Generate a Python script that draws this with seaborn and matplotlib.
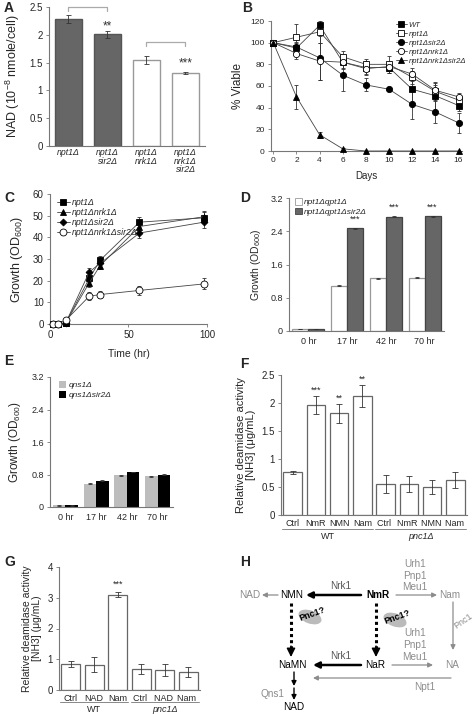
import numpy as np
import pandas as pd
import matplotlib
matplotlib.use("Agg")
import matplotlib.pyplot as plt
from matplotlib.patches import Ellipse
import seaborn as sns

W, H = 477, 714

# ---------------- data ----------------
a_strains = ["npt1Δ", "npt1Δ\nsir2Δ", "npt1Δ\nnrk1Δ", "npt1Δ\nnrk1Δ\nsir2Δ"]
a_nad = [2.28, 2.01, 1.55, 1.31]
a_err = [0.07, 0.06, 0.07, 0.02]

b_days = [0, 2, 4, 6, 8, 10, 12, 14, 16]
b_labels = ["WT", "npt1Δ", "npt1Δsir2Δ", "npt1Δnrk1Δ", "npt1Δnrk1Δsir2Δ"]
b_wt = [100, 95, 116, 82, 77, 77, 57, 51, 42]
b_npt1 = [100, 105, 110, 87, 80, 80, 68, 55, 47]
b_sir2 = [100, 96, 86, 70, 61, 57, 43, 36, 26]
b_nrk1 = [100, 90, 83, 82, 76, 78, 71, 56, 50]
b_triple = [100, 50, 15, 2, 0, 0, 0, 0, 0]
b_wt_err = [0, 5, 6, 6, 6, 5, 14, 13, 5]
b_npt1_err = [0, 12, 10, 5, 5, 8, 6, 8, 5]
b_sir2_err = [0, 5, 20, 15, 6, 2, 13, 10, 9]
b_nrk1_err = [0, 5, 17, 5, 6, 4, 6, 5, 4]
b_triple_err = [0, 11, 3, 1, 0, 0, 0, 0, 0]

c_time = [2, 5, 10, 25, 32, 57, 98]
c_labels = ["npt1Δ", "npt1Δnrk1Δ", "npt1Δsir2Δ", "npt1Δnrk1Δsir2Δ"]
c_npt1 = [0, 0, 0.5, 21, 29.5, 47, 49]
c_nrk1 = [0, 0, 0.5, 19, 27, 45, 49.5]
c_sir2 = [0, 0, 0.5, 24, 28, 42, 47]
c_triple = [0, 0, 1.7, 12.8, 13.6, 15.5, 18.5]
c_err = [0.3, 0.3, 0.5, 1.8, 1.8, 2.2, 2.5]

time_labels = ["0 hr", "17 hr", "42 hr", "70 hr"]
d_labels = ["npt1Δqpt1Δ", "npt1Δqpt1Δsir2Δ"]
d_qpt1 = [0.05, 1.09, 1.27, 1.28]
d_sir2 = [0.05, 2.47, 2.75, 2.76]
d_err = [0.01, 0.015, 0.01, 0.01]

e_labels = ["qns1Δ", "qns1Δsir2Δ"]
e_qns1 = [0.04, 0.57, 0.78, 0.76]
e_sir2 = [0.04, 0.65, 0.86, 0.80]
e_err = [0.005, 0.01, 0.01, 0.01]

f_treat = ["Ctrl", "NmR", "NMN", "Nam", "Ctrl ", "NmR ", "NMN ", "Nam "]
f_vals = [0.76, 1.97, 1.82, 2.13, 0.555, 0.555, 0.50, 0.62]
f_err = [0.02, 0.16, 0.17, 0.20, 0.165, 0.15, 0.13, 0.14]
f_stars = ["", "***", "**", "**", "", "", "", ""]

g_treat = ["Ctrl", "NAD", "Nam", "Ctrl ", "NAD ", "Nam "]
g_vals = [0.85, 0.82, 3.10, 0.68, 0.65, 0.58]
g_err = [0.10, 0.25, 0.08, 0.17, 0.19, 0.16]
g_stars = ["", "", "***", "", "", ""]

groups = ["WT", "pnc1Δ"]

# ---------------- style ----------------
sns.set_style("ticks")
plt.rcParams["font.family"] = ["Liberation Sans", "DejaVu Sans"]
plt.rcParams["mathtext.fontset"] = "custom"
plt.rcParams["mathtext.rm"] = "Liberation Sans"
plt.rcParams["mathtext.it"] = "Liberation Sans:italic"

AX = "#777777"
DARK = "#666666"


def rect(l, t, r, b):
    return [l / W, 1 - b / H, (r - l) / W, (b - t) / H]


def style(ax, fs=6.5):
    sns.despine(ax=ax)
    for s in ("left", "bottom"):
        ax.spines[s].set_color(AX)
        ax.spines[s].set_linewidth(0.8)
    ax.tick_params(labelsize=fs, length=2.5, width=0.6, color=AX, pad=2)


def errs(ax, x, y, e, cap=1.8):
    ax.errorbar(x, y, yerr=e, fmt="none", ecolor="#333333", elinewidth=0.6,
                capsize=cap, capthick=0.6, zorder=5)


fig = plt.figure(figsize=(W / 100, H / 100), dpi=100)

# ---------------- A ----------------
axA = fig.add_axes(rect(49, 7, 205, 146))
a_cols = [DARK, DARK, "white", "white"]
sns.barplot(x=a_strains, y=a_nad, hue=a_strains, palette=a_cols, width=0.67,
            legend=False, ax=axA, saturation=1)
for p, ec in zip(axA.patches, ["#555555", "#555555", "#999999", "#999999"]):
    p.set_edgecolor(ec)
    p.set_linewidth(1.0)
errs(axA, range(4), a_nad, a_err)
axA.set_ylim(0, 2.5)
axA.set_xlim(-0.5, 3.5)
axA.set_yticks([0, 0.5, 1, 1.5, 2, 2.5])
axA.set_yticklabels(["0", "0.5", "1", "1.5", "2", "2.5"])
style(axA, 7)
axA.tick_params(axis="x", length=0, labelsize=6.3, pad=1.5)
for t in axA.get_xticklabels():
    t.set_style("italic")
    t.set_linespacing(0.95)
    t.set_va("top")
axA.set_ylabel("NAD (10$^{-8}$ nmole/cell)", fontsize=9, labelpad=5)
for x0, x1, y in [(0, 1, 2.5), (2, 3, 1.87)]:
    axA.plot([x0, x0, x1, x1], [y - 0.08, y, y, y - 0.08], color="#aaaaaa",
             lw=0.9, solid_joinstyle="round", clip_on=False)
axA.text(1, 2.15, "**", ha="center", va="center", fontsize=8.5, color="#333")
axA.text(3, 1.48, "***", ha="center", va="center", fontsize=8.5, color="#333")

# ---------------- B ----------------
axB = fig.add_axes(rect(271, 21, 462, 151))
b_series = [b_wt, b_npt1, b_sir2, b_nrk1, b_triple]
b_errs = [b_wt_err, b_npt1_err, b_sir2_err, b_nrk1_err, b_triple_err]
b_marks = [("s", "black"), ("s", "white"), ("o", "black"), ("o", "white"), ("^", "black")]
for lab, ys, es, (m, fc) in zip(b_labels, b_series, b_errs, b_marks):
    errs(axB, b_days, ys, es, cap=1.5)
    sns.lineplot(x=b_days, y=ys, ax=axB, color="#444444", lw=0.6, marker=m,
                 markersize=4.5, markerfacecolor=fc, markeredgecolor="black",
                 markeredgewidth=0.6, label=lab, clip_on=False, zorder=6)
axB.set_xlim(-0.2, 16.3)
axB.set_ylim(0, 120)
axB.set_xticks(range(0, 17, 2))
axB.set_yticks(range(0, 121, 20))
style(axB, 6)
axB.set_ylabel("% Viable", fontsize=8.5, labelpad=5)
axB.set_xlabel("Days", fontsize=7, labelpad=5)
axB.legend(loc="upper left", bbox_to_anchor=(392 / W, 1 - 18 / H),
           bbox_transform=fig.transFigure, frameon=False, borderpad=0,
           prop={"style": "italic", "size": 5.5}, handlelength=1.4,
           handletextpad=0.3, labelspacing=0.2)

# ---------------- C ----------------
axC = fig.add_axes(rect(50, 194, 207, 324))
c_series = [c_npt1, c_nrk1, c_sir2, c_triple]
c_marks = [("s", "black", 5), ("^", "black", 4.5), ("D", "black", 3.5), ("o", "white", 5)]
for lab, ys, (m, fc, ms) in zip(c_labels, c_series, c_marks):
    errs(axC, c_time, ys, c_err, cap=1.5)
    sns.lineplot(x=c_time, y=ys, ax=axC, color="#444444", lw=0.6, marker=m,
                 markersize=ms, markerfacecolor=fc, markeredgecolor="black",
                 markeredgewidth=0.6, label=lab, clip_on=False, zorder=6)
axC.set_xlim(0, 100)
axC.set_ylim(0, 60)
axC.set_xticks([0, 50, 100])
axC.set_yticks(range(0, 61, 10))
style(axC, 7)
axC.set_ylabel("Growth (OD$_{600}$)", fontsize=9, labelpad=6)
axC.set_xlabel("Time (hr)", fontsize=7.5, labelpad=6)
axC.legend(loc="upper left", bbox_to_anchor=(53 / W, 1 - 194 / H),
           bbox_transform=fig.transFigure, frameon=False, borderpad=0,
           prop={"style": "italic", "size": 6.3}, handlelength=1.4,
           handletextpad=0.3, labelspacing=0.1)

# ---------------- D ----------------
axD = fig.add_axes(rect(289, 198, 444, 331))
dfD = pd.DataFrame({"time": time_labels * 2, "val": d_qpt1 + d_sir2,
                    "strain": [d_labels[0]] * 4 + [d_labels[1]] * 4})
sns.barplot(data=dfD, x="time", y="val", hue="strain", palette=["white", DARK],
            width=0.82, saturation=1, ax=axD, legend=False)
for i, p in enumerate(axD.patches):
    p.set_edgecolor("#999999" if i < 4 else "#444444")
    p.set_linewidth(0.9)
xs = np.arange(4)
errs(axD, xs - 0.205, d_qpt1, d_err, cap=1.5)
errs(axD, xs + 0.205, d_sir2, d_err, cap=1.5)
for i in range(1, 4):
    axD.text(i + 0.205, d_sir2[i] + 0.12, "***", ha="center", va="bottom", fontsize=6.5)
axD.set_ylim(0, 3.2)
axD.set_xlim(-0.5, 3.5)
axD.set_yticks([0, 0.8, 1.6, 2.4, 3.2])
axD.set_yticklabels(["0", "0.8", "1.6", "2.4", "3.2"])
style(axD, 6.5)
axD.tick_params(axis="x", length=0, pad=4)
axD.set_xlabel("")
axD.set_ylabel("Growth (OD$_{600}$)", fontsize=7.5, labelpad=5)
hD = [plt.Rectangle((0, 0), 1, 1, fc=c, ec=e, lw=0.6) for c, e in
      [("white", "#999999"), (DARK, "#444444")]]
axD.legend(hD, d_labels, loc="upper left", bbox_to_anchor=(291 / W, 1 - 194 / H),
           bbox_transform=fig.transFigure, frameon=False, borderpad=0,
           prop={"style": "italic", "size": 6}, handlelength=0.8, handleheight=0.8,
           handletextpad=0.3, labelspacing=0.15)

# ---------------- E ----------------
axE = fig.add_axes(rect(50, 377, 173, 507))
dfE = pd.DataFrame({"time": time_labels * 2, "val": e_qns1 + e_sir2,
                    "strain": [e_labels[0]] * 4 + [e_labels[1]] * 4})
sns.barplot(data=dfE, x="time", y="val", hue="strain", palette=["#bdbdbd", "black"],
            width=0.82, saturation=1, ax=axE, legend=False)
for p in axE.patches:
    p.set_edgecolor("none")
errs(axE, xs - 0.205, e_qns1, e_err, cap=1.5)
errs(axE, xs + 0.205, e_sir2, e_err, cap=1.5)
axE.set_ylim(0, 3.2)
axE.set_xlim(-0.5, 3.5)
axE.set_yticks([0, 0.8, 1.6, 2.4, 3.2])
axE.set_yticklabels(["0", "0.8", "1.6", "2.4", "3.2"])
style(axE, 6.5)
axE.tick_params(axis="x", length=0, pad=4)
axE.set_xlabel("")
axE.set_ylabel("Growth (OD$_{600}$)", fontsize=8.5, labelpad=6)
hE = [plt.Rectangle((0, 0), 1, 1, fc=c, ec="none") for c in ["#bdbdbd", "black"]]
axE.legend(hE, e_labels, loc="upper left", bbox_to_anchor=(55 / W, 1 - 377 / H),
           bbox_transform=fig.transFigure, frameon=False, borderpad=0,
           prop={"style": "italic", "size": 6}, handlelength=0.8, handleheight=0.8,
           handletextpad=0.3, labelspacing=0.25)


# ---------------- F and G ----------------
def deamidase(ax, treat, vals, err, stars, ymax, yticks, ylabfs, ymul):
    sns.barplot(x=treat, y=vals, color="white", width=0.8, saturation=1, ax=ax)
    for p in ax.patches:
        p.set_edgecolor("#666666")
        p.set_linewidth(0.9)
    errs(ax, range(len(vals)), vals, err, cap=2)
    for i, s in enumerate(stars):
        if s:
            ax.text(i, vals[i] + err[i] + ymul, s, ha="center", va="bottom", fontsize=6.5)
    ax.set_ylim(0, ymax)
    ax.set_xlim(-0.5, len(vals) - 0.5)
    ax.set_yticks(yticks)
    ax.set_yticklabels(["%g" % v for v in yticks])
    style(ax, 7)
    ax.tick_params(axis="x", length=0, labelsize=6.5, pad=3)
    ax.set_ylabel("Relative deamidase activity\n[NH3] (μg/mL)", fontsize=ylabfs,
                  labelpad=4, linespacing=1.0)
    n = len(vals) // 2
    tr = ax.get_xaxis_transform()
    for k, g in enumerate(groups):
        x0, x1 = k * n - 0.45, (k + 1) * n - 0.55
        ax.plot([x0, x1], [-0.1, -0.1], color="#888888", lw=0.7, transform=tr, clip_on=False)
        ax.text((x0 + x1) / 2, -0.12, g, transform=tr, ha="center", va="top",
                fontsize=6.5, style="italic" if k else "normal")


axF = fig.add_axes(rect(281, 375, 467, 515))
deamidase(axF, f_treat, f_vals, f_err, f_stars, 2.5, [0, 0.5, 1, 1.5, 2, 2.5], 8, 0.02)

axG = fig.add_axes(rect(59, 567, 200, 690))
deamidase(axG, g_treat, g_vals, g_err, g_stars, 4, [0, 1, 2, 3, 4], 7.5, 0.1)

# ---------------- overlay: letters and pathway H ----------------
axO = fig.add_axes([0, 0, 1, 1])
axO.set_xlim(0, W)
axO.set_ylim(H, 0)
axO.axis("off")
axO.patch.set_visible(False)

for let, x, y in [("A", 4, 8), ("B", 242, 8), ("C", 4, 198), ("D", 240, 198),
                  ("E", 4, 361), ("F", 240, 364), ("G", 4, 562), ("H", 240, 562)]:
    axO.text(x, y, let, fontsize=10, fontweight="bold", ha="left", va="center")

GR = "#8c8c8c"
fs = 7.2


def txt(s, x, y, c="black", **kw):
    axO.text(x, y, s, color=c, fontsize=kw.pop("fontsize", fs), ha="center",
             va="center", **kw)


def arrow(x0, y0, x1, y1, c, lw, ms=7):
    axO.annotate("", xy=(x1, y1), xytext=(x0, y0),
                 arrowprops=dict(arrowstyle="-|>", color=c, lw=lw,
                                 mutation_scale=ms, shrinkA=0, shrinkB=0))


for s, y in zip(["Urh1", "Pnp1", "Meu1"], [564, 576, 587]):
    txt(s, 415, y, GR)
for s, y in zip(["Urh1", "Pnp1", "Meu1"], [633, 645, 657]):
    txt(s, 415, y, GR)

txt("NAD", 250, 595, GR)
txt("NMN", 292, 595)
txt("NmR", 378, 595, fontweight="bold")
txt("Nam", 450, 595, GR)
txt("NaMN", 292, 665)
txt("NaR", 375, 665)
txt("NA", 452, 665, GR)
txt("Nrk1", 341, 586, "#555555")
txt("Nrk1", 341, 656, "#555555")
txt("Npt1", 425, 687, GR)
txt("Qns1", 273, 694, GR)
txt("NAD", 294, 707)
txt("Pnc1", 463, 621, GR, rotation=35, fontsize=6.5)

arrow(278, 595, 262, 595, GR, 0.9)
arrow(361, 595, 306, 595, "black", 1.8, 9)
arrow(396, 595, 437, 595, GR, 0.9)
arrow(453, 602, 453, 650, GR, 0.9)
arrow(361, 665, 313, 665, "black", 1.8, 9)
arrow(392, 665, 433, 665, GR, 0.9)
arrow(451, 678, 313, 678, GR, 0.9)
arrow(294, 672, 294, 686, "black", 1.0)
arrow(294, 688, 294, 700, "black", 1.0)

for x in (291, 376):
    axO.plot([x, x], [603, 648], color="black", lw=2.2, ls=(0, (1, 1)))
    arrow(x, 646, x, 657, "black", 1.0, 13)

for (ex, ey) in [(310, 617), (395, 620)]:
    axO.add_patch(Ellipse((ex, ey), 24, 13, angle=20, color="#aaaaaa", alpha=0.8, lw=0))
    txt("Pnc1?", ex + 2, ey - 3, fontsize=6.5, fontweight="bold", rotation=20)

fig.savefig("out.png", dpi=100)
